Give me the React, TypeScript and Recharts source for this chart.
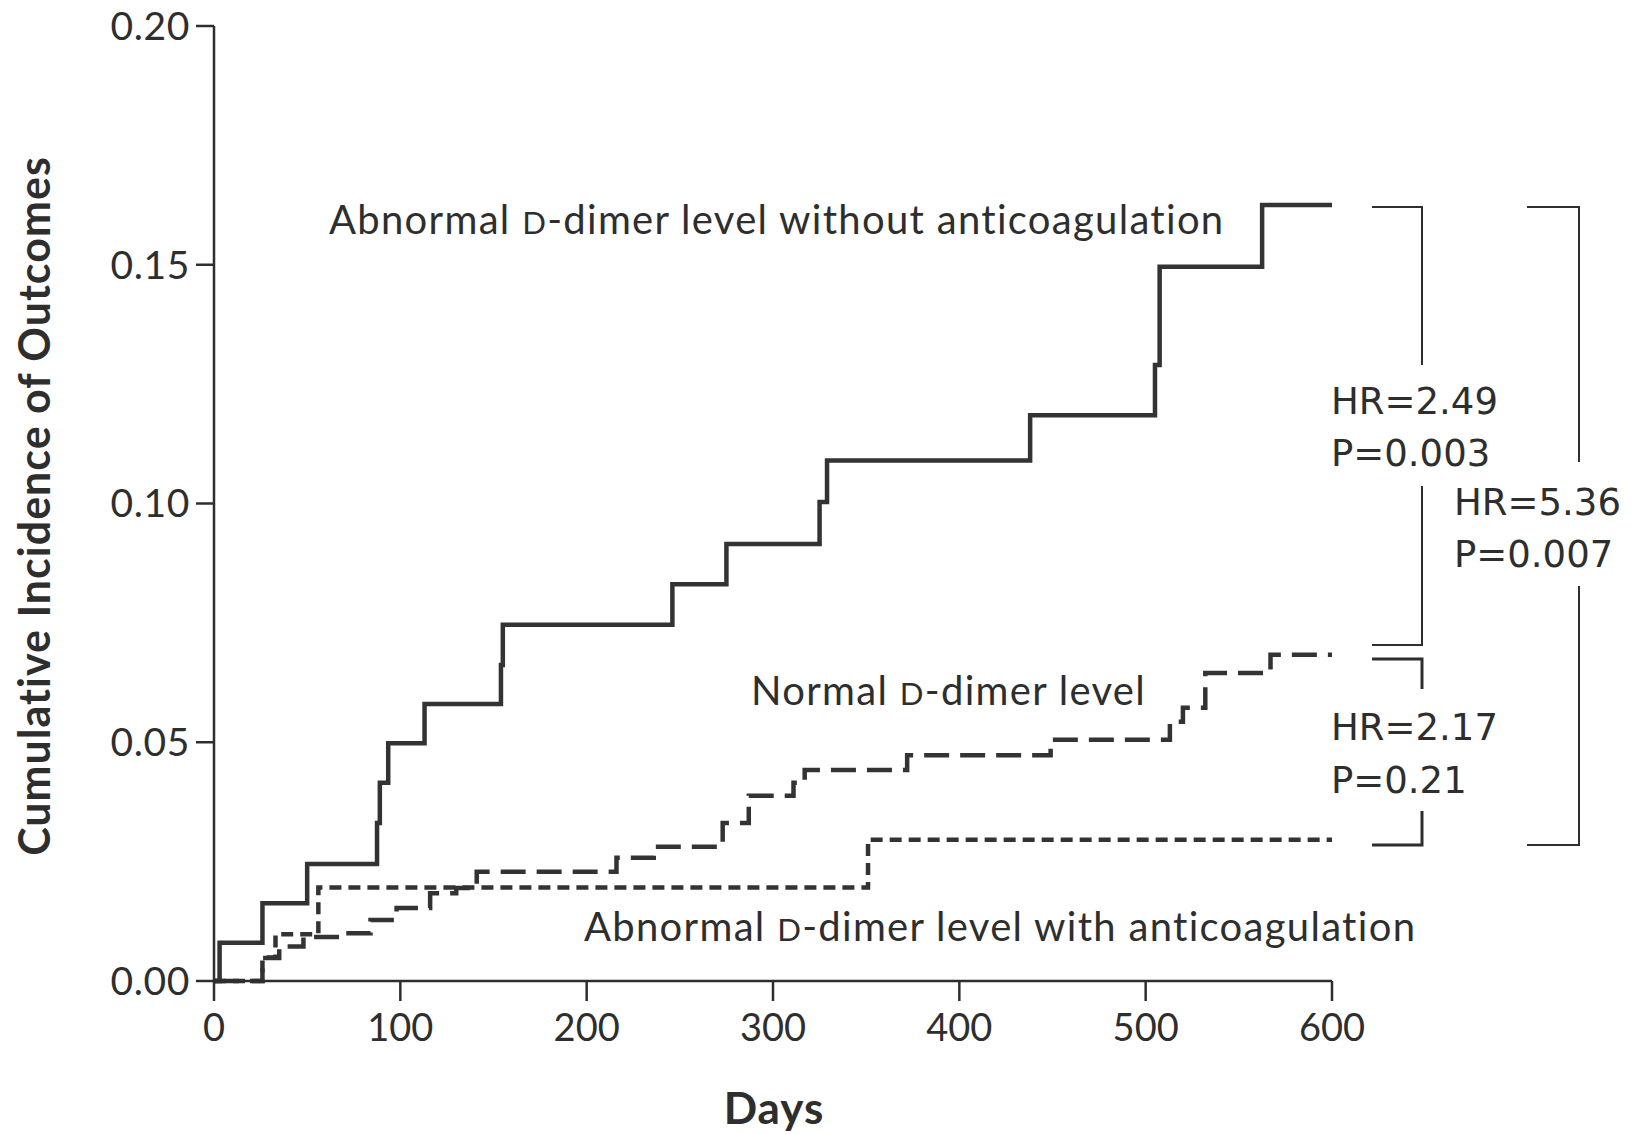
import React from 'react';
import { LineChart, Line, XAxis, YAxis } from 'recharts';

// ---- data ----
const xTicks = [0, 100, 200, 300, 400, 500, 600];
const yTicks = [0, 0.05, 0.1, 0.15, 0.2];

const withoutAntiDays = [0, 3, 26, 50, 87.5, 89, 93.5, 113, 154, 155, 246, 275, 325, 329, 438, 505, 507.5, 562.5, 600];
const withoutAntiValues = [0, 0.008, 0.0163, 0.0245, 0.0331, 0.0415, 0.0498, 0.058, 0.0662, 0.0746, 0.0831, 0.0915, 0.1003, 0.109, 0.1185, 0.129, 0.1496, 0.1625, 0.1625];

const normalDays = [0, 26, 35, 48, 70, 84, 98, 116, 130, 141, 216, 236, 273, 287, 311, 317, 372, 449, 513, 520, 532, 567, 600];
const normalValues = [0, 0.0048, 0.0072, 0.0092, 0.01, 0.0128, 0.0153, 0.0184, 0.0195, 0.0229, 0.0258, 0.0281, 0.0331, 0.0388, 0.0415, 0.0442, 0.0473, 0.0505, 0.0543, 0.0572, 0.0645, 0.0683, 0.0683];

const withAntiDays = [0, 26, 33, 56, 351, 600];
const withAntiValues = [0, 0.0049, 0.0098, 0.0196, 0.0296, 0.0296];

const seriesLabels = {
  without: ['Abnormal ', 'D', '-dimer level without anticoagulation'],
  normal: ['Normal ', 'D', '-dimer level'],
  withAnti: ['Abnormal ', 'D', '-dimer level with anticoagulation'],
};
const statLines = [
  ['HR=2.49', 'P=0.003'],
  ['HR=5.36', 'P=0.007'],
  ['HR=2.17', 'P=0.21'],
];
const yAxisTitle = 'Cumulative Incidence of Outcomes';
const xAxisTitle = 'Days';

const toRows = (days: number[], vals: number[]) => days.map((d, i) => ({ day: d, v: vals[i] }));
const withoutData = toRows(withoutAntiDays, withoutAntiValues);
const normalData = toRows(normalDays, normalValues);
const withAntiData = toRows(withAntiDays, withAntiValues);

const INK = '#2e2e2e';
const FONT = 'Lato, sans-serif';
const HRFONT = '"DejaVu Sans", sans-serif';

function SeriesLabel({ x, y, parts, size }: { x: number; y: number; parts: string[]; size: number }) {
  return (
    <text x={x} y={y} fontFamily={FONT} fontSize={size} fill={INK} letterSpacing={1.3}>
      {parts[0]}
      <tspan fontSize={size * 0.78}>{parts[1]}</tspan>
      {parts[2]}
    </text>
  );
}

export default function App() {
  const W = 1640;
  const H = 1134;
  const yAxisW = 100;
  const xAxisH = 80;
  const yTickStyle = { fontFamily: FONT, fontSize: 39, fill: INK, letterSpacing: 0.6 };
  const xTickStyle = { fontFamily: FONT, fontSize: 38, fill: INK };
  return (
    <div style={{ position: 'absolute', left: 0, top: 0, width: W, height: H, background: '#fff' }}>
      <LineChart
        width={W}
        height={H}
        margin={{ top: 26, right: W - 1332, bottom: H - 981 - xAxisH, left: 214 - yAxisW }}
      >
        <XAxis
          dataKey="day"
          type="number"
          domain={[0, 600]}
          ticks={xTicks}
          allowDuplicatedCategory={false}
          height={xAxisH}
          stroke={INK}
          strokeWidth={2.5}
          tickSize={20}
          tickMargin={13}
          tick={xTickStyle}
          tickLine={{ stroke: INK, strokeWidth: 2.5 }}
        />
        <YAxis
          dataKey="v"
          type="number"
          domain={[0, 0.2]}
          ticks={yTicks}
          width={yAxisW}
          stroke={INK}
          strokeWidth={2.5}
          tickSize={18}
          tickMargin={6}
          tick={yTickStyle}
          tickLine={{ stroke: INK, strokeWidth: 2.5 }}
          tickFormatter={(v: number) => v.toFixed(2)}
        />
        <Line data={withoutData} dataKey="v" type="stepAfter" stroke="#333" strokeWidth={4.5} dot={false} isAnimationActive={false} />
        <Line data={normalData} dataKey="v" type="stepAfter" stroke="#333" strokeWidth={4.5} strokeDasharray="25 11" dot={false} isAnimationActive={false} />
        <Line data={withAntiData} dataKey="v" type="stepAfter" stroke="#333" strokeWidth={4.5} strokeDasharray="12 7" dot={false} isAnimationActive={false} />
      </LineChart>
      <svg width={W} height={H} style={{ position: 'absolute', left: 0, top: 0, pointerEvents: 'none' }}>
        {/* axis titles */}
        <text
          x={0}
          y={0}
          transform="translate(50,506) rotate(-90)"
          textAnchor="middle"
          fontFamily={FONT}
          fontWeight={700}
          fontSize={43}
          letterSpacing={1}
          fill={INK}
        >
          {yAxisTitle}
        </text>
        <text x={774} y={1124} textAnchor="middle" fontFamily={FONT} fontWeight={700} fontSize={44} letterSpacing={1} fill={INK}>
          {xAxisTitle}
        </text>
        {/* series labels */}
        <SeriesLabel x={329} y={234} parts={seriesLabels.without} size={40} />
        <SeriesLabel x={751} y={705} parts={seriesLabels.normal} size={40} />
        <SeriesLabel x={584} y={941} parts={seriesLabels.withAnti} size={40} />
        {/* brackets */}
        <g stroke={INK} strokeWidth={2} fill="none">
          <polyline points="1372,207 1422,207 1422,365" />
          <polyline points="1422,486 1422,645 1372,645" />
          <polyline points="1372,659 1422,659 1422,689" strokeWidth={3} />
          <polyline points="1422,811 1422,845 1372,845" strokeWidth={3} />
          <polyline points="1527,207 1579,207 1579,462" />
          <polyline points="1579,586 1579,845 1527,845" />
        </g>
        {/* statistics */}
        <g fontFamily={HRFONT} fontSize={37} fill={INK}>
          <text x={1331} y={414}>{statLines[0][0]}</text>
          <text x={1331} y={466}>{statLines[0][1]}</text>
          <text x={1454} y={515}>{statLines[1][0]}</text>
          <text x={1454} y={567}>{statLines[1][1]}</text>
          <text x={1331} y={740}>{statLines[2][0]}</text>
          <text x={1331} y={793}>{statLines[2][1]}</text>
        </g>
      </svg>
    </div>
  );
}
